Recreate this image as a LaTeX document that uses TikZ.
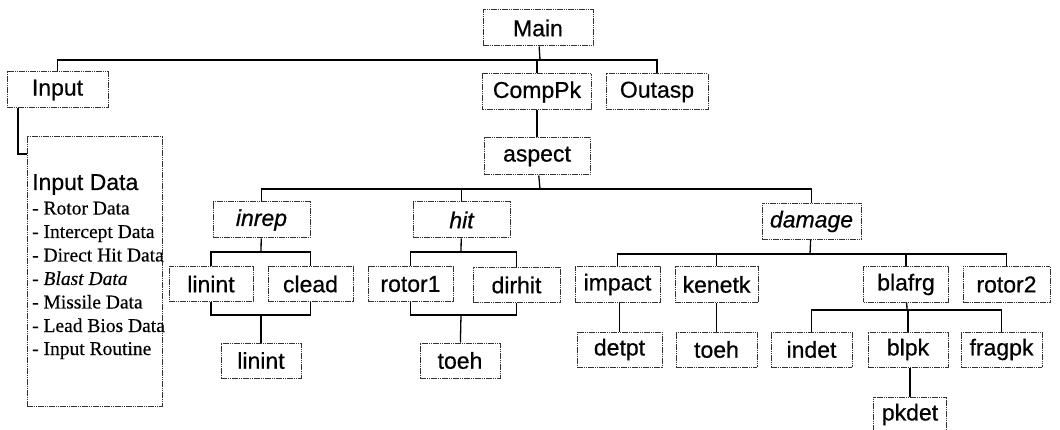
\documentclass[tikz,border=0pt]{standalone}
\usepackage{fontspec}
\setmainfont{Liberation Serif}
\setsansfont{Liberation Sans}
\newfontfamily\modfont{Liberation Sans}[FakeBold=0.6]
\newfontfamily\datafont{Liberation Serif}[FakeBold=0.4]
\usepackage{tikz}

\tikzset{
  mod/.style={draw=black!80, line width=1pt, dash pattern=on 1.6pt off 0.6pt,
    minimum height=36, inner sep=0pt, font=\modfont\fontsize{23}{27}\selectfont},
  link/.style={line width=1.3pt},
  datarow/.style={anchor=base west, inner sep=0pt, font=\datafont\fontsize{19.5}{23}\selectfont}
}

\begin{document}
\begin{tikzpicture}[x=1pt,y=-1pt]
\useasboundingbox (0,0) rectangle (1060,430);
\node[mod, minimum width=110] (main) at (538,28) {Main};
\node[mod, minimum width=101] (input) at (57.5,90) {Input};
\node[mod, minimum width=109] (comppk) at (537,92) {CompPk};
\node[mod, minimum width=102] (outasp) at (657,92) {Outasp};
\coordinate (mainbus) at (540,60);
\draw[link] (main) to (mainbus);
\draw[link] (input.north) |- (mainbus) -| (outasp.north);
\draw[link] (comppk) to (comppk |- mainbus);

%input data
\node[mod, minimum width=135, minimum height=269] (indata) at (94.5,271.5) {};
\coordinate (incorner) at (18,154);
\draw[link] (input.south -| incorner) to (incorner) to (indata.west |- incorner);
\node[datarow, font=\modfont\fontsize{23}{27}\selectfont] (indhead) at (32,190) {Input Data};
\node[datarow] (d1) at (32,214.5) {- Rotor Data};
\node[datarow] (d2) at (32,238) {- Intercept Data};
\node[datarow] (d3) at (32,261.5) {- Direct Hit Data};
\node[datarow] (d4) at (32,285) {- \textit{Blast Data}};
\node[datarow] (d5) at (32,308.5) {- Missile Data};
\node[datarow] (d6) at (32,332) {- Lead Bios Data};
\node[datarow] (d7) at (32,355) {- Input Routine};

\node[mod, minimum width=106, minimum height=37] (aspect) at (537,156.5) {aspect};
\draw[link] (comppk) to (aspect);

%second level
\node[mod, minimum width=97, font=\modfont\itshape\fontsize{23}{27}\selectfont] (inrep) at (261.5,220) {inrep};
\node[mod, minimum width=97, font=\modfont\itshape\fontsize{23}{27}\selectfont] (hit) at (461.5,220) {hit};
\node[mod, minimum width=99, font=\modfont\itshape\fontsize{23}{27}\selectfont] (damage) at (811.5,221.5) {damage};
\coordinate (aspbus) at (540,189);
\draw[link] (aspect) to (aspbus);
\draw[link] (inrep.north) |- (aspbus) -| (damage.north);
\draw[link] (hit) to (hit |- aspbus);

%inrep branch
\node[mod, minimum width=84, minimum height=35] (linint) at (211,284) {linint};
\node[mod, minimum width=85, minimum height=35] (clead) at (310.5,284) {clead};
\node[mod, minimum width=80, minimum height=35] (linintb) at (261,360.5) {linint};
\coordinate (inrepbus) at (261,252);
\coordinate (inreplow) at (261,315);
\draw[link] (inrep) to (inrepbus);
\draw[link] (linint.north) |- (inrepbus) -| (clead.north);
\draw[link] (linint.south) |- (inreplow) -| (clead.south);
\draw[link] (inreplow) to (linintb);

%hit branch
\node[mod, minimum width=85, minimum height=35] (rotor1) at (410.5,284) {rotor1};
\node[mod, minimum width=87, minimum height=35] (dirhit) at (516.5,285) {dirhit};
\node[mod, minimum width=80, minimum height=35] (toeh) at (460,360.5) {toeh};
\coordinate (hitbus) at (461,252);
\coordinate (hitlow) at (461,315);
\draw[link] (hit) to (hitbus);
\draw[link] (rotor1.north) |- (hitbus) -| (dirhit.north);
\draw[link] (rotor1.south) |- (hitlow) -| (dirhit.south);
\draw[link] (hitlow) to (toeh);

%damage branch
\node[mod, minimum width=85] (impact) at (617.5,284.5) {impact};
\node[mod, minimum width=83] (kenetk) at (716.5,284.5) {kenetk};
\node[mod, minimum width=85] (blafrg) at (906,284.5) {blafrg};
\node[mod, minimum width=87] (rotor2) at (1006.5,284.5) {rotor2};
\coordinate (dambus) at (810,254);
\draw[link] (damage) to (dambus);
\draw[link] (impact.north) |- (dambus) -| (rotor2.north);
\draw[link] (kenetk) to (kenetk |- dambus);
\draw[link] (blafrg) to (blafrg |- dambus);
\node[mod, minimum width=85, minimum height=35] (detpt) at (619.5,349.5) {detpt};
\node[mod, minimum width=81, minimum height=35] (toehb) at (716.5,349.5) {toeh};
\draw[link] (impact.south -| detpt) to (detpt);
\draw[link] (kenetk) to (toehb);

%blafrg branch
\node[mod, minimum width=81, minimum height=35] (indet) at (811.5,349.5) {indet};
\node[mod, minimum width=80, minimum height=35] (blpk) at (908,349.5) {blpk};
\node[mod, minimum width=81, minimum height=35] (fragpk) at (1001.5,349.5) {fragpk};
\node[mod, minimum width=73, minimum height=35] (pkdet) at (910,414.5) {pkdet};
\coordinate (blabus) at (907,310);
\draw[link] (blafrg) to (blabus);
\draw[link] (indet.north) |- (blabus) -| (fragpk.north);
\draw[link] (blpk) to (blpk |- blabus);
\draw[link] (blpk.south -| pkdet) to (pkdet);
\end{tikzpicture}
\end{document}
